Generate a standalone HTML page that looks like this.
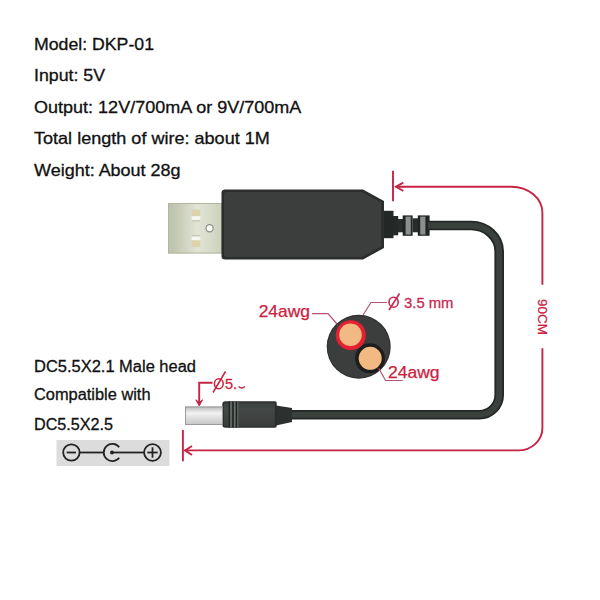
<!DOCTYPE html>
<html><head><meta charset="utf-8">
<style>
html,body{margin:0;padding:0;background:#fff;width:600px;height:600px;overflow:hidden}
svg{display:block}
text{font-family:"Liberation Sans",sans-serif}
</style></head><body>
<svg width="600" height="600" viewBox="0 0 600 600">
<defs>
<linearGradient id="metal" x1="0" y1="0" x2="1" y2="0">
<stop offset="0" stop-color="#bec3ad"/>
<stop offset="0.12" stop-color="#c2c7b1"/>
<stop offset="0.55" stop-color="#e2e5d6"/>
<stop offset="1" stop-color="#ccd1bc"/>
</linearGradient>
<linearGradient id="barrel" x1="0" y1="0" x2="0" y2="1">
<stop offset="0" stop-color="#b8b8b8"/>
<stop offset="0.35" stop-color="#f2f2f2"/>
<stop offset="1" stop-color="#c4c4c4"/>
</linearGradient>
<linearGradient id="plug" x1="0" y1="0" x2="0" y2="1">
<stop offset="0" stop-color="#3a3e3c"/>
<stop offset="0.25" stop-color="#444846"/>
<stop offset="1" stop-color="#3a3d3b"/>
</linearGradient>
</defs>
<rect width="600" height="600" fill="#fff"/>

<!-- spec text -->
<g fill="#111" stroke="#111" stroke-width="0.3" font-size="16.5">
<text x="34" y="50.1" textLength="120" lengthAdjust="spacingAndGlyphs">Model: DKP-01</text>
<text x="34" y="81.4" textLength="71" lengthAdjust="spacingAndGlyphs">Input: 5V</text>
<text x="34" y="112.9" textLength="267.4" lengthAdjust="spacingAndGlyphs">Output: 12V/700mA or 9V/700mA</text>
<text x="34" y="144.4" textLength="235.8" lengthAdjust="spacingAndGlyphs">Total length of wire: about 1M</text>
<text x="34" y="176.4" textLength="146.6" lengthAdjust="spacingAndGlyphs">Weight: About 28g</text>
</g>
<g fill="#111" stroke="#111" stroke-width="0.3" font-size="16">
<text x="34" y="371.5" textLength="162" lengthAdjust="spacingAndGlyphs">DC5.5X2.1 Male head</text>
<text x="34" y="400.2" textLength="116.5" lengthAdjust="spacingAndGlyphs">Compatible with</text>
<text x="34" y="430.2" textLength="79" lengthAdjust="spacingAndGlyphs">DC5.5X2.5</text>
</g>

<!-- USB metal -->
<rect x="168" y="203" width="54" height="50.5" fill="url(#metal)"/>
<rect x="168.5" y="203.5" width="53" height="49.5" fill="none" stroke="#b0b59f" stroke-width="1"/>
<rect x="191.7" y="209.6" width="8.6" height="6.6" fill="#ddd2ae"/>
<rect x="191.7" y="216.2" width="8.6" height="4.6" fill="#f7f6f0"/>
<line x1="191.7" y1="220.8" x2="200.3" y2="220.8" stroke="#a9ad9a" stroke-width="0.8"/>
<rect x="191.7" y="235.8" width="8.6" height="4.6" fill="#f7f6f0"/>
<line x1="191.7" y1="235.8" x2="200.3" y2="235.8" stroke="#a9ad9a" stroke-width="0.8"/>
<rect x="191.7" y="240.4" width="8.6" height="6.6" fill="#ddd2ae"/>
<circle cx="209.6" cy="228.3" r="3.6" fill="#f8f8f4" stroke="#8d8f86" stroke-width="1.2"/>
<!-- USB body -->
<path d="M225,189.5 L363,189.5 L384,201 L384,248 L363,259.5 L225,259.5 Q221.5,259.5 221.5,256 L221.5,193 Q221.5,189.5 225,189.5 Z" fill="#2b2e2c"/>
<path d="M226,192 L362,192 L381,202.5 L381,246.5 L362,257 L226,257 Q224,257 224,255 L224,194 Q224,192 226,192 Z" fill="#3b3e3c"/>
<!-- strain relief -->
<rect x="384" y="210.8" width="9.5" height="27.4" fill="#232725"/>
<rect x="393" y="216" width="5.2" height="19.3" fill="#252927"/>
<rect x="398" y="219" width="5" height="13.3" fill="#282c2a"/>
<rect x="402.7" y="215.4" width="9.9" height="20.4" fill="#202422"/>
<rect x="405.6" y="216.6" width="5.2" height="18" fill="#8c8f8d"/>
<rect x="412.5" y="218.3" width="5.5" height="14" fill="#282c2a"/>
<rect x="417.8" y="215.4" width="11.8" height="20.4" fill="#202422"/>
<rect x="420.2" y="216.6" width="5.2" height="18" fill="#8c8f8d"/>
<!-- cable -->
<path d="M428,225.5 L471,225.5 A28.2,26 0 0 1 499.2,251.5 L499.2,394.5 A20,20 0 0 1 479,414.8 L290,414.8" fill="none" stroke="#232826" stroke-width="9.6"/><path d="M428,225.5 L471,225.5 A28.2,26 0 0 1 499.2,251.5 L499.2,394.5 A20,20 0 0 1 479,414.8 L290,414.8" fill="none" stroke="#3a403c" stroke-width="6"/>

<!-- DC plug -->
<path d="M276,405.5 L292,408 L292,422 L276,425.5 Z" fill="#2c302e"/>
<path d="M225.5,401.2 L275,401.2 Q276.7,401.2 276.7,403 L276.7,426 Q276.7,427.8 275,427.8 L225.5,427.8 Q222.3,427.8 222.3,424.5 L222.3,404.5 Q222.3,401.2 225.5,401.2 Z" fill="#2a2d2c"/>
<path d="M226,402.6 L274.8,402.6 L274.8,426.4 L226,426.4 Q223.8,426.4 223.8,424 L223.8,405 Q223.8,402.6 226,402.6 Z" fill="url(#plug)"/>
<rect x="228.6" y="401.5" width="1.2" height="26" fill="#1f2321"/>
<rect x="232.4" y="401.5" width="1.2" height="26" fill="#1f2321"/>
<rect x="235.8" y="401.5" width="1.2" height="26" fill="#1f2321"/>
<rect x="230.5" y="402" width="1.1" height="25" fill="#758079"/>
<rect x="234.2" y="402" width="1.1" height="25" fill="#758079"/>
<rect x="237.3" y="402" width="1.1" height="25" fill="#5e6863"/>
<rect x="185" y="406.5" width="37.5" height="18.5" fill="url(#barrel)"/>
<rect x="185.5" y="407" width="37" height="17.5" fill="none" stroke="#9a9a9a" stroke-width="1"/>
<!-- cross-section -->
<circle cx="358.7" cy="346.7" r="32" fill="#2e3130"/><circle cx="358.7" cy="346.7" r="30.8" fill="#3b3e3c"/>
<circle cx="350.8" cy="335.2" r="15" fill="#e42032"/>
<circle cx="350.5" cy="334.8" r="11.3" fill="#f2b983"/>
<circle cx="370" cy="358.3" r="15" fill="#1c1e1d"/>
<circle cx="370.2" cy="358.3" r="11.5" fill="#f2b983"/>

<!-- leader lines -->
<g fill="none" stroke="#b9506f" stroke-width="1.2">
<polyline points="312,313.7 328,313.7 337,324"/>
<polyline points="363,315 371,302.5 387,302.5"/>
<polyline points="378.7,368.3 385.5,380.5 402.7,380.5"/>
</g>

<!-- red dimension -->
<g fill="none" stroke="#c62345" stroke-width="1.9">
<line x1="393" y1="170.7" x2="393" y2="201.3"/>
<path d="M395.7,186.7 L511.4,186.7 A31,26 0 0 1 542.4,212.7 L542.4,284.7"/>
<path d="M542.4,348.3 L542.4,428 A24,22.4 0 0 1 518.4,450.4 L184.7,450.4"/>
<line x1="182.9" y1="430" x2="182.9" y2="461.3"/>
<polyline points="403.3,182.7 396,186.7 403.3,191"/>
<polyline points="192,446 185,450.4 192,455"/>
<polyline points="199.2,403 199.2,382.8 212.5,382.8"/>
</g>

<path d="M195.8,399.8 L199.2,405.8 L202.6,399.8 L199.2,402.5 Z" fill="#c62345" stroke="#c62345" stroke-width="1"/>
<!-- red texts -->
<g fill="#cc2140" stroke="#cc2140" stroke-width="0.25">
<text x="258.7" y="317" font-size="16.5" textLength="51.3" lengthAdjust="spacingAndGlyphs">24awg</text>
<text x="388" y="377.6" font-size="15.6" textLength="51.5" lengthAdjust="spacingAndGlyphs">24awg</text>
<g fill="none" stroke="#c42a50" stroke-width="1.6"><ellipse cx="393.6" cy="302.2" rx="4.6" ry="5"/><line x1="389" y1="310" x2="399.5" y2="293.5"/></g>
<text x="404" y="307.6" font-size="14.8" textLength="49.5" lengthAdjust="spacingAndGlyphs" stroke-width="0.3" fill="#c42a50" stroke="#c42a50">3.5 mm</text>
<g fill="none" stroke="#c8203f" stroke-width="1.5"><ellipse cx="218.8" cy="383.8" rx="4.4" ry="5"/><line x1="213" y1="392.5" x2="225.5" y2="371.5"/></g><text x="225" y="389" font-size="14.5" stroke="#c8203f" stroke-width="0.3">5.</text><path d="M238.5,386.5 Q241.8,389.5 245,386.5" fill="none" stroke="#c8203f" stroke-width="1.3"/>
<text transform="translate(537.5,299) rotate(90)" font-size="13" textLength="36" lengthAdjust="spacingAndGlyphs">90CM</text>
</g>

<!-- DC symbol -->
<rect x="56.5" y="440" width="113" height="26" fill="#dcdcdc"/>
<g fill="none" stroke="#222" stroke-width="1.8">
<circle cx="71.4" cy="452.5" r="8.2"/>
<line x1="66.7" y1="452.5" x2="76" y2="452.5"/>
<line x1="79.5" y1="452.5" x2="103.5" y2="452.5"/>
<path d="M119.2,447.3 A8.6,8.6 0 1 0 119.2,457.7"/>
<line x1="112" y1="452.5" x2="144" y2="452.5"/>
<circle cx="152.5" cy="452.5" r="8.4"/>
<line x1="147.3" y1="452.5" x2="157.7" y2="452.5"/>
<line x1="152.5" y1="447.3" x2="152.5" y2="457.7"/>
</g>
<circle cx="112" cy="452.5" r="2" fill="#222"/>
</svg>
</body></html>
